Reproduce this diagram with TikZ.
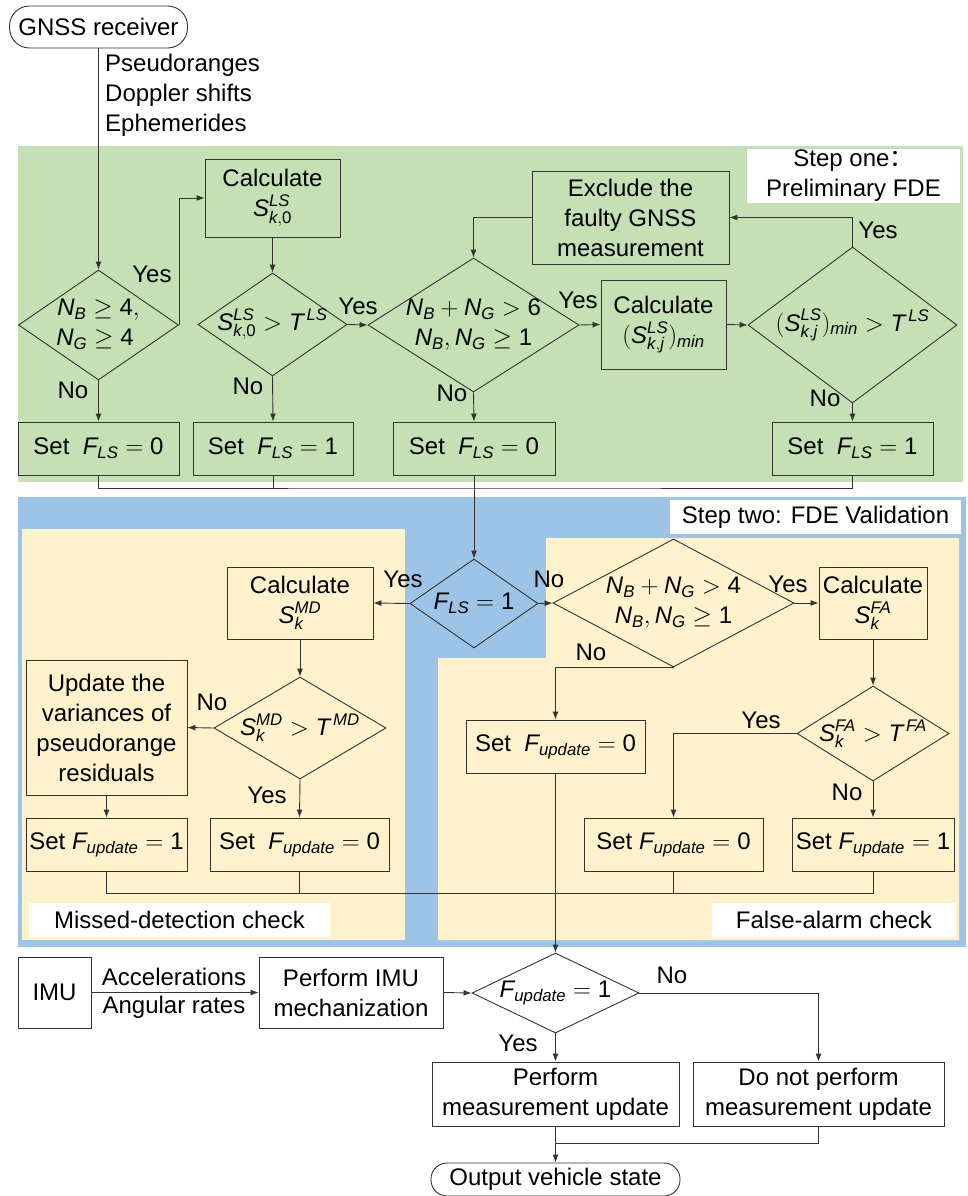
\documentclass[tikz,border=0pt]{standalone}
\usepackage{fontspec}
\usepackage{amsmath}
\setmainfont{Liberation Sans}
\newfontfamily\cjk{Noto Sans CJK SC}
\usetikzlibrary{arrows.meta,shapes.geometric}
\definecolor{grn}{HTML}{C5E0B4}
\definecolor{blu}{HTML}{9DC3E6}
\definecolor{ylw}{HTML}{FFF2CC}
\definecolor{ln}{HTML}{333333}
\newcommand\mv[1]{\textit{#1}}
\newcommand\tn[1]{\text{#1}}
\begin{document}
\begin{tikzpicture}[x=1pt,y=-1pt,
  every node/.style={font=\fontsize{24}{30}\selectfont, inner sep=0pt, text=black},
  box/.style={draw=ln, line width=0.9pt, align=center},
  dia/.style={diamond, draw=ln, line width=0.9pt},
  con/.style={draw=ln, line width=0.9pt},
  arr/.style={con, -{Latex[length=8pt,width=6pt]}},
  note/.style={fill=white, align=center},
  txt/.style={align=center}]
\useasboundingbox (0,0) rectangle (967,1196);
% backgrounds
\fill[grn] (18,146) rectangle (963,482);
\fill[blu] (18,497) rectangle (966,947);
\fill[ylw] (22,529) rectangle (405,940);
\fill[ylw] (546,538) -- (959,538) -- (959,940) -- (438,940) -- (438,658) -- (546,658) -- cycle;
% notes
\node[note, minimum width=213pt, minimum height=54pt] (n1) at (853.5,176) {Step one{\cjk ：}\\Preliminary FDE};
\node[note, minimum width=291pt, minimum height=34pt] (n2) at (815.5,517) {Step two: FDE Validation};
\node[note, minimum width=301pt, minimum height=34pt] (n3) at (179.5,920) {Missed-detection check};
\node[note, minimum width=244pt, minimum height=34pt] (n4) at (834,920) {False-alarm check};
% top
\node[box, rounded corners=20pt, minimum width=178pt, minimum height=42pt] (gnss) at (98.5,27) {GNSS receiver};
\node[align=left, anchor=west] (gl) at (105,95) {Pseudoranges\\Doppler shifts\\Ephemerides};
\node[dia, minimum width=160pt, minimum height=110pt] (d1) at (98.5,325) {};
\node[txt] (t1) at (d1.center) {$\mv{N}_{\mv{B}} \geq \tn{4},$\\$\mv{N}_{\mv{G}} \geq \tn{4}\phantom{,}$};
\node[box, minimum width=135pt, minimum height=78pt] (c1) at (272.5,198) {Calculate\\$\mv{S}^{\mv{LS}}_{\mv{k},\tn{0}}$};
\node[dia, minimum width=149pt, minimum height=103pt] (d2) at (272.5,324.5) {};
\node[txt] (t2) at (d2.center) {$\mv{S}^{\mv{LS}}_{\mv{k},\tn{0}} > \mv{T}^{\,\mv{LS}}$};
\node[dia, minimum width=211pt, minimum height=134pt] (d3) at (473.5,325) {};
\node[txt] (t3) at (d3.center) {$\mv{N}_{\mv{B}} + \mv{N}_{\mv{G}} > \tn{6}$\\$\mv{N}_{\mv{B}}, \mv{N}_{\mv{G}} \geq \tn{1}$};
\node[box, minimum width=125pt, minimum height=89pt] (c2) at (663.5,324.5) {Calculate\\$(\mv{S}^{\mv{LS}}_{\mv{k},\mv{j}})_{\mv{min}}$};
\node[dia, minimum width=209pt, minimum height=156pt] (d4) at (852.5,325) {};
\node[txt] (t4) at (d4.center) {$(\mv{S}^{\mv{LS}}_{\mv{k},\mv{j}})_{\mv{min}} > \mv{T}^{\,\mv{LS}}$};
\node[box, minimum width=197pt, minimum height=93pt] (ex) at (630.5,217.5) {Exclude the\\faulty GNSS\\measurement};
\node[box, minimum width=161pt, minimum height=53pt] (s1) at (98.5,448.5) {Set\ \ $\mv{F}_{\mv{LS}} = \tn{0}$};
\node[box, minimum width=160pt, minimum height=53pt] (s2) at (273,448.5) {Set\ \ $\mv{F}_{\mv{LS}} = \tn{1}$};
\node[box, minimum width=162pt, minimum height=53pt] (s3) at (474,448.5) {Set\ \ $\mv{F}_{\mv{LS}} = \tn{0}$};
\node[box, minimum width=161pt, minimum height=53pt] (s4) at (852.5,448.5) {Set\ \ $\mv{F}_{\mv{LS}} = \tn{1}$};
\node (y1) at (152,274) {Yes};
\node (y2) at (358,306) {Yes};
\node (y3) at (578,300) {Yes};
\node (y4) at (878,230) {Yes};
\node (o1) at (73,390) {No};
\node (o2) at (248,386) {No};
\node (o3) at (452,393) {No};
\node (o4) at (825,398) {No};
\draw[arr] (gnss.south) -- (d1.north);
\draw[arr] (d1.east) |- (c1.west);
\draw[arr] (c1.south) -- (d2.north);
\draw[arr] (d2.east) -- (d3.west);
\draw[arr] (d3.east) -- (c2.west);
\draw[arr] (c2.east) -- (d4.west);
\draw[arr] (d4.north) |- (ex.east);
\draw[arr] (ex.west) -| (d3.north);
\draw[arr] (d1.south) -- (s1.north);
\draw[arr] (d2.south) -- (s2.north);
\draw[arr] (d3.south) -- (s3.north);
\draw[arr] (d4.south) -- (s4.north);
\coordinate (m1) at (474,488);
\draw[con] (s1.south) |- (m1) -| (s4.south);
\draw[con] (s2.south) -- (s2.south |- m1);
% step two
\node[dia, fill=blu, minimum width=128pt, minimum height=89pt] (dF) at (474,603.5) {};
\node[txt] (tF) at (dF.center) {$\mv{F}_{\mv{LS}} = \tn{1}$};
\draw[arr] (s3.south) -- (dF.north);
\node[box, minimum width=146pt, minimum height=72pt] (cMD) at (300,603) {Calculate\\$\mv{S}^{\mv{MD}}_{\mv{k}}$};
\node[dia, minimum width=172pt, minimum height=102pt] (dMD) at (300,728) {};
\node[txt] (tMD) at (dMD.center) {$\mv{S}^{\mv{MD}}_{\mv{k}} > \mv{T}^{\,\mv{MD}}$};
\node[box, minimum width=161pt, minimum height=135pt] (upd) at (106.5,727.5) {Update the\\variances of\\pseudorange\\residuals};
\node[box, minimum width=161pt, minimum height=53pt] (sL1) at (106.5,844.5) {Set $\mv{F}_{\mv{update}} = \tn{1}$};
\node[box, minimum width=179pt, minimum height=53pt] (sL2) at (299.5,844.5) {Set\ \ $\mv{F}_{\mv{update}} = \tn{0}$};
\node[dia, minimum width=241pt, minimum height=128pt] (dN) at (673.5,603) {};
\node[txt] (tN) at (dN.center) {$\mv{N}_{\mv{B}} + \mv{N}_{\mv{G}} > \tn{4}$\\$\mv{N}_{\mv{B}}, \mv{N}_{\mv{G}} \geq \tn{1}$};
\node[box, minimum width=108pt, minimum height=72pt] (cFA) at (873,603) {Calculate\\$\mv{S}^{\mv{FA}}_{\mv{k}}$};
\node[dia, minimum width=152pt, minimum height=95pt] (dFA) at (873,733.5) {};
\node[txt] (tFA) at (dFA.center) {$\mv{S}^{\mv{FA}}_{\mv{k}} > \mv{T}^{\,\mv{FA}}$};
\node[box, minimum width=179pt, minimum height=53pt] (sR0) at (555.5,746.5) {Set\ \ $\mv{F}_{\mv{update}} = \tn{0}$};
\node[box, minimum width=179pt, minimum height=53pt] (sR1) at (673.5,844.5) {Set $\mv{F}_{\mv{update}} = \tn{0}$};
\node[box, minimum width=162pt, minimum height=53pt] (sR2) at (873,844.5) {Set $\mv{F}_{\mv{update}} = \tn{1}$};
\node (y5) at (403,579) {Yes};
\node (o5) at (549,579) {No};
\node (o6) at (212,702) {No};
\node (y6) at (267,795) {Yes};
\node (y7) at (788,584) {Yes};
\node (o7) at (591,652) {No};
\node (y8) at (761,720) {Yes};
\node (o8) at (847,792) {No};
\draw[arr] (dF.west) -- (cMD.east);
\draw[arr] (cMD.south) -- (dMD.north);
\draw[arr] (dMD.west) -- (upd.east);
\draw[arr] (upd.south) -- (sL1.north);
\draw[arr] (dMD.south) -- (sL2.north);
\draw[arr] (dF.east) -- (dN.west);
\draw[arr] (dN.east) -- (cFA.west);
\draw[arr] (cFA.south) -- (dFA.north);
\draw[arr] (dN.south) -| (sR0.north);
\draw[arr] (dFA.west) -| (sR1.north);
\draw[arr] (dFA.south) -- (sR2.north);
\coordinate (m2) at (556,893);
\draw[con] (sL1.south) |- (m2) -| (sR2.south);
\draw[con] (sL2.south) -- (sL2.south |- m2);
\draw[con] (sR1.south) -- (sR1.south |- m2);
% bottom
\node[box, minimum width=73pt, minimum height=71pt] (imu) at (54.5,992.5) {IMU};
\node[box, minimum width=184pt, minimum height=71pt] (pim) at (351,992.5) {Perform IMU\\mechanization};
\node (acc) at (174,977) {Accelerations};
\node (ang) at (174,1007) {Angular rates};
\node[dia, minimum width=167pt, minimum height=80pt] (dU) at (555.5,993) {};
\node[txt] (tU) at (dU.center) {$\mv{F}_{\mv{update}} = \tn{1}$};
\node[box, minimum width=247pt, minimum height=64pt] (pm) at (555.5,1094) {Perform\\measurement update};
\node[box, minimum width=251pt, minimum height=64pt] (dn) at (818.5,1094) {Do not perform\\measurement update};
\node[box, rounded corners=16pt, minimum width=249pt, minimum height=33pt] (out) at (555.5,1179.5) {Output vehicle state};
\node (o9) at (672,975) {No};
\node (y9) at (518,1043) {Yes};
\draw[arr] (sR0.south) -- (dU.north);
\draw[arr] (imu.east) -- (pim.west);
\draw[arr] (pim.east) -- (dU.west);
\draw[arr] (dU.east) -| (dn.north);
\draw[arr] (dU.south) -- (pm.north);
\coordinate (m3) at (555.5,1143);
\draw[con] (dn.south) |- (m3);
\draw[arr] (pm.south) -- (out.north);
\end{tikzpicture}
\end{document}
